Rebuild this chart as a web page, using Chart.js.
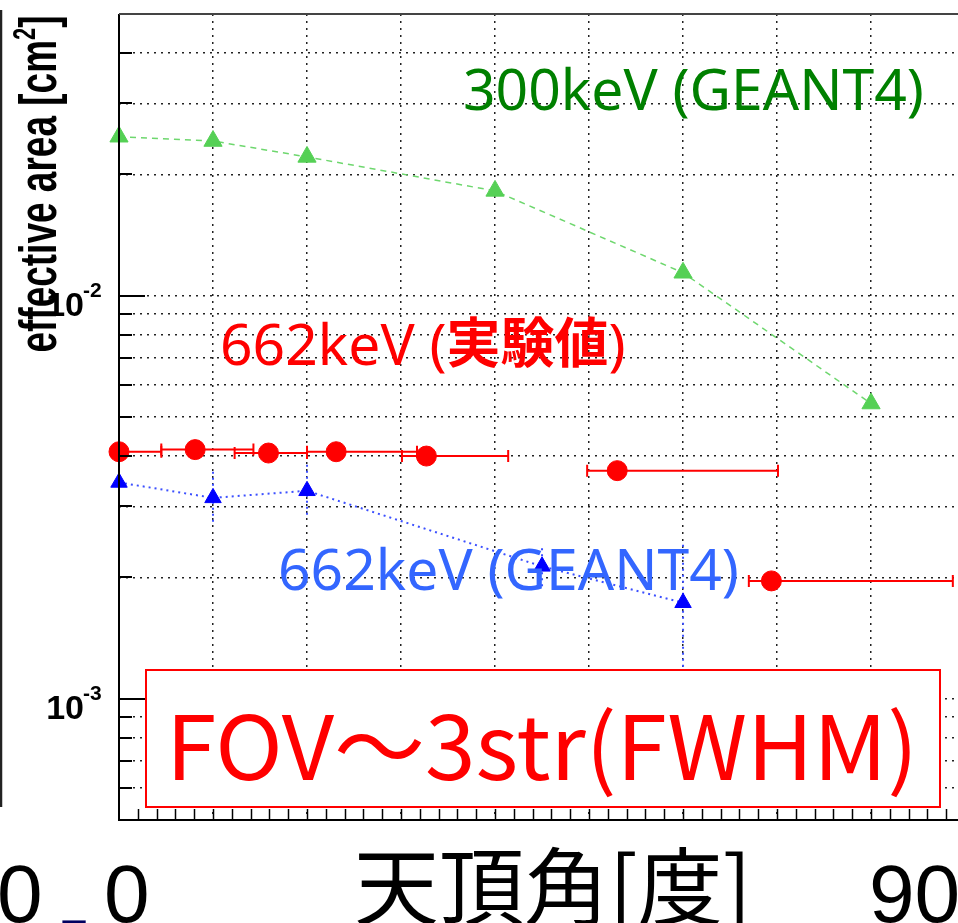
<!DOCTYPE html>
<html>
<head>
<meta charset="utf-8">
<script src="https://cdn.jsdelivr.net/npm/chart.js@4.4.1/dist/chart.umd.min.js"></script>
<style>
  html, body { margin: 0; padding: 0; background: #fff; overflow: hidden; }
  canvas { display: block; }
</style>
</head>
<body>
<canvas id="grafico" width="958" height="923"></canvas>
<script>
// === effective area vs 天頂角 ===

// 300keV (GEANT4)
const angles300 = [0, 10, 20, 40, 60, 80];
const area300 = [0.0248, 0.0242, 0.0221, 0.0182, 0.0114, 0.0054];

// 662keV (GEANT4) + vertical errors
const angles662sim = [0, 10, 20, 45, 60];
const area662sim = [0.00344, 0.00315, 0.00328, 0.00213, 0.00173];
const area662simLo = [0.00303, 0.00275, 0.00286, 0.0019, 0.0012];
const area662simHi = [0.00364, 0.00366, 0.00381, 0.00237, 0.00244];

// 662keV (実験値) + horizontal errors
const angles662exp = [0, 8.1, 15.9, 23.1, 32.7, 53.0, 69.4];
const area662exp = [0.0041, 0.00415, 0.00407, 0.0041, 0.0040, 0.00368, 0.00196];
const angle662expLo = [-4.5, 4.5, 12.3, 20, 30.1, 49.8, 67.0];
const angle662expHi = [4.5, 14.3, 20, 31.7, 41.4, 70.1, 88.7];

// axes
const xGrid = [0, 10, 20, 30, 40, 50, 60, 70, 80];
const xMinorStep = 2;
const yGrid = [0.0005, 0.0006, 0.0007, 0.0008, 0.0009,
  0.001, 0.002, 0.003, 0.004, 0.005, 0.006, 0.007, 0.008, 0.009,
  0.01, 0.02, 0.03, 0.04, 0.05];
const yMajor = [0.001, 0.01];
const yMajorExp = ['-3', '-2'];

const pts = (xs, ys) => xs.map((v, i) => ({ x: v, y: ys[i] }));

// error bars (drawn under the markers)
const errorBars = {
  id: 'errorBars',
  beforeDatasetsDraw(chart) {
    const { ctx, chartArea: a, scales: { x, y } } = chart;
    ctx.save();
    ctx.beginPath();
    ctx.rect(a.left, a.top, a.right - a.left, a.bottom - a.top);
    ctx.clip();

    ctx.strokeStyle = '#ff0000';
    ctx.lineWidth = 2;
    area662exp.forEach((v, i) => {
      const py = y.getPixelForValue(v);
      const x0 = x.getPixelForValue(angle662expLo[i]);
      const x1 = x.getPixelForValue(angle662expHi[i]);
      ctx.beginPath();
      ctx.moveTo(x0, py); ctx.lineTo(x1, py);
      ctx.moveTo(x0, py - 6); ctx.lineTo(x0, py + 6);
      ctx.moveTo(x1, py - 6); ctx.lineTo(x1, py + 6);
      ctx.stroke();
    });

    ctx.strokeStyle = 'rgb(60,80,255)';
    ctx.lineWidth = 2;
    ctx.setLineDash([2, 4]);
    area662sim.forEach((v, i) => {
      const px = x.getPixelForValue(angles662sim[i]);
      ctx.beginPath();
      ctx.moveTo(px, y.getPixelForValue(area662simLo[i]));
      ctx.lineTo(px, y.getPixelForValue(area662simHi[i]));
      ctx.stroke();
    });
    ctx.restore();
  }
};

// frame, ticks, labels and the texts pasted on the slide
const decorations = {
  id: 'decorations',
  afterDraw(chart) {
    const { ctx, chartArea: a, scales: { x, y } } = chart;
    ctx.save();

    // frame
    ctx.strokeStyle = '#000';
    ctx.lineWidth = 2;
    ctx.beginPath();
    ctx.moveTo(a.left, a.top); ctx.lineTo(a.left, a.bottom); ctx.lineTo(a.right, a.bottom);
    ctx.stroke();
    ctx.strokeStyle = '#444';
    ctx.beginPath();
    ctx.moveTo(a.left, a.top); ctx.lineTo(a.right, a.top);
    ctx.stroke();

    // left edge of the previous panel
    ctx.strokeStyle = '#222';
    ctx.lineWidth = 2.5;
    ctx.beginPath();
    ctx.moveTo(1, 10); ctx.lineTo(1, 807);
    ctx.stroke();

    // y ticks
    ctx.strokeStyle = '#000';
    ctx.lineWidth = 2;
    yGrid.forEach(v => {
      if (v <= y.min || v >= y.max) return;
      const py = Math.round(y.getPixelForValue(v));
      const len = yMajor.includes(v) ? 26 : 13;
      ctx.beginPath();
      ctx.moveTo(a.left, py); ctx.lineTo(a.left + len, py);
      ctx.stroke();
    });

    // x ticks
    ctx.lineWidth = 1.5;
    for (let v = xMinorStep; v < x.max; v += xMinorStep) {
      const px = Math.round(x.getPixelForValue(v)) + 0.5;
      ctx.beginPath();
      ctx.moveTo(px, a.bottom); ctx.lineTo(px, a.bottom - 11);
      ctx.stroke();
    }

    // y tick labels 10^-n
    ctx.fillStyle = '#000';
    ctx.textBaseline = 'alphabetic';
    yMajor.forEach((v, i) => {
      const py = y.getPixelForValue(v);
      ctx.font = 'bold 21px "Liberation Sans", Arial';
      ctx.textAlign = 'left';
      ctx.fillText(yMajorExp[i], 83, py + 1);
      ctx.font = 'bold 34px "Liberation Sans", Arial';
      ctx.textAlign = 'right';
      ctx.fillText('10', 84, py + 20);
    });

    // y title (stretched like the original)
    ctx.save();
    ctx.translate(56, 184);
    ctx.rotate(-Math.PI / 2);
    ctx.scale(1, 1.4);
    ctx.textAlign = 'left';
    const big = 'bold 37px "Liberation Sans", Arial';
    const sup = 'bold 22px "Liberation Sans", Arial';
    ctx.font = big;
    const w1 = ctx.measureText('effective area [cm').width;
    const w3 = ctx.measureText(']').width;
    ctx.font = sup;
    const w2 = ctx.measureText('2').width;
    let tx = -(w1 + w2 + w3) / 2;
    ctx.font = big; ctx.fillText('effective area [cm', tx, 0); tx += w1;
    ctx.font = sup; ctx.fillText('2', tx, -15); tx += w2;
    ctx.font = big; ctx.fillText(']', tx, 0);
    ctx.restore();

    // curve labels
    const hand = '57px "Comic Sans MS", "Noto Sans", sans-serif';
    ctx.textAlign = 'left';
    ctx.font = hand;
    ctx.fillStyle = 'rgb(0,128,0)';
    ctx.fillText('300keV (GEANT4)', 463, 110);
    ctx.fillStyle = 'rgb(51,102,255)';
    ctx.fillText('662keV (GEANT4)', 278, 590);

    ctx.fillStyle = '#ff0000';
    let lx = 220;
    ctx.font = hand;
    ctx.fillText('662keV (', lx, 365);
    lx += ctx.measureText('662keV (').width;
    ctx.font = 'bold 54px "Noto Sans CJK JP"';
    ctx.fillText('実験値', lx, 363);
    lx += ctx.measureText('実験値').width;
    ctx.font = hand;
    ctx.fillText(')', lx, 365);

    // FOV box
    ctx.fillStyle = '#fff';
    ctx.fillRect(146, 670, 794, 137);
    ctx.strokeStyle = '#ff0000';
    ctx.lineWidth = 2;
    ctx.strokeRect(146, 670, 794, 137);
    ctx.fillStyle = '#ff0000';
    ctx.font = '89px "Noto Sans CJK JP"';
    const fov = 'FOV～3str(FWHM)';
    const fw = ctx.measureText(fov).width;
    ctx.save();
    ctx.translate(166, 780);
    ctx.scale(752 / fw, 1);
    ctx.fillText(fov, 0, 0);
    ctx.restore();

    // bottom labels
    ctx.fillStyle = '#000';
    ctx.font = '82px "Liberation Sans", Arial';
    ctx.fillText('0', -3, 922);
    ctx.fillText('0', 104, 922);
    ctx.fillText('90', 869, 922);
    ctx.font = '85px "Noto Sans CJK JP"';
    ctx.fillText('天頂角[度]', 354, 919);
    ctx.fillStyle = '#000060';
    ctx.font = '40px "Liberation Sans", Arial';
    ctx.fillText('_', 63, 915);

    ctx.restore();
  }
};

const data = {
  datasets: [
    {
      label: '662keV (実験値)',
      data: pts(angles662exp, area662exp),
      showLine: false,
      pointStyle: 'circle',
      pointRadius: 10,
      pointBackgroundColor: '#ff0000',
      pointBorderColor: '#ff0000',
      pointBorderWidth: 1,
      clip: false,
    },
    {
      label: '662keV (GEANT4)',
      data: pts(angles662sim, area662sim),
      showLine: true,
      borderColor: 'rgb(60,80,255)',
      borderWidth: 2,
      borderDash: [2, 4],
      pointStyle: 'triangle',
      pointRadius: 9.5,
      pointBackgroundColor: '#0000ff',
      pointBorderColor: '#0000ff',
      pointBorderWidth: 1,
      clip: false,
    },
    {
      label: '300keV (GEANT4)',
      data: pts(angles300, area300),
      showLine: true,
      borderColor: 'rgb(110,215,110)',
      borderWidth: 1.5,
      borderDash: [6, 5],
      pointStyle: 'triangle',
      pointRadius: 10.5,
      pointBackgroundColor: 'rgb(85,208,85)',
      pointBorderColor: 'rgb(85,208,85)',
      pointBorderWidth: 1,
      clip: false,
    }
  ]
};

const config = {
  type: 'scatter',
  data: data,
  options: {
    responsive: false,
    animation: false,
    layout: { autoPadding: false, padding: { left: 119, top: 14, right: 0, bottom: 103 } },
    plugins: {
      legend: { display: false },
      tooltip: { enabled: false }
    },
    scales: {
      x: {
        type: 'linear',
        min: 0,
        max: 89.25,
        afterBuildTicks: axis => { axis.ticks = xGrid.map(v => ({ value: v })); },
        ticks: { display: false },
        grid: { color: '#222', lineWidth: 1.5, drawTicks: false },
        border: { display: false, dash: [2, 5] }
      },
      y: {
        type: 'logarithmic',
        min: 0.0005,
        max: 0.05,
        afterBuildTicks: axis => { axis.ticks = yGrid.map(v => ({ value: v })); },
        ticks: { display: false },
        grid: { color: '#222', lineWidth: 1.5, drawTicks: false },
        border: { display: false, dash: [2, 5] }
      }
    }
  },
  plugins: [errorBars, decorations]
};

new Chart(document.getElementById('grafico'), config);
</script>
</body>
</html>
